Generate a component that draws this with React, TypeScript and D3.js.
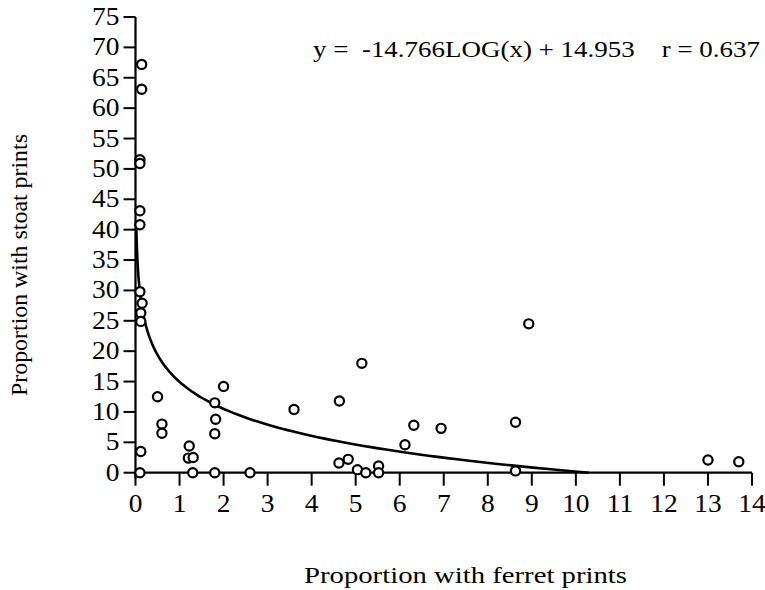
import React from "react";
import * as d3 from "d3";

const xValues = [0.14, 0.14, 0.1, 0.1, 0.1, 0.1, 0.1, 0.15, 0.12, 0.12, 0.12, 0.1,
  0.5, 0.6, 0.6, 1.22, 1.2, 1.31, 1.3, 1.8, 1.82, 1.8, 2.0, 1.8, 2.6, 3.6,
  4.63, 4.62, 4.83, 5.04, 5.23, 5.52, 5.52, 5.14, 6.12, 6.32, 6.94, 8.63, 8.63, 8.93, 13.0, 13.7];
const yValues = [67.2, 63.1, 51.5, 50.9, 43.1, 40.8, 29.8, 27.9, 26.3, 24.9, 3.5, 0,
  12.5, 8.0, 6.5, 4.4, 2.4, 2.5, 0, 11.5, 8.8, 6.4, 14.2, 0, 0, 10.4,
  11.8, 1.6, 2.2, 0.5, 0, 1.1, 0, 18.0, 4.6, 7.8, 7.3, 8.3, 0.3, 24.5, 2.1, 1.8];
const xTicks = d3.range(0, 15, 1);
const yTicks = d3.range(0, 80, 5);
const slope = -14.766;
const intercept = 14.953;
const equationLabel = "y =  -14.766LOG(x) + 14.953    r = 0.637";
const xTitle = "Proportion with ferret prints";
const yTitle = "Proportion with stoat prints";

export default function App() {
  const W = 765, H = 590;
  const x = d3.scaleLinear().domain([0, 14]).range([135.5, 752]);
  const y = d3.scaleLinear().domain([0, 75]).range([472.7, 17]);
  const root = Math.pow(10, intercept / -slope);
  const curveXs = d3.range(0, 201).map((i) => 0.02 * Math.pow(root / 0.02, i / 200));
  const line = d3.line<number>()
    .x((d) => x(d))
    .y((d) => y(slope * Math.log10(d) + intercept));
  const font = "'Liberation Serif', 'Times New Roman', serif";
  return (
    <svg width={W} height={H} style={{ position: "absolute", left: 0, top: 0, background: "#fff" }}
      fontFamily={font}>
      <rect width={W} height={H} fill="#fff" />
      <line x1={x(0)} x2={x(0)} y1={y(75)} y2={y(0) + 6} stroke="#000" strokeWidth={2.2} />
      <line x1={x(0)} x2={x(14)} y1={y(0)} y2={y(0)} stroke="#000" strokeWidth={2.2} />
      {yTicks.map((t) => (
        <g key={"y" + t}>
          <line x1={x(0) - 12} x2={x(0)} y1={y(t)} y2={y(t)} stroke="#000" strokeWidth={2} />
          <text transform={`translate(${x(0) - 16},${y(t) + 8}) scale(1.12,1)`} textAnchor="end" fontSize={24.5}>{t}</text>
        </g>
      ))}
      {xTicks.map((t) => (
        <g key={"x" + t}>
          <line x1={x(t)} x2={x(t)} y1={y(0)} y2={y(0) + 13} stroke="#000" strokeWidth={2} />
          <text transform={`translate(${x(t)},${y(0) + 39}) scale(1.12,1)`} textAnchor="middle" fontSize={24.5}>{t}</text>
        </g>
      ))}
      <path d={line(curveXs) || ""} fill="none" stroke="#000" strokeWidth={2.6} />
      {xValues.map((xv, i) => (
        <circle key={i} cx={x(xv)} cy={y(yValues[i])} r={4.6} fill="#fff" stroke="#000" strokeWidth={2.2} />
      ))}
      <text x={313} y={57} fontSize={23} textLength={447} lengthAdjust="spacingAndGlyphs" xmlSpace="preserve">{equationLabel}</text>
      <text x={304} y={583} fontSize={24} textLength={323} lengthAdjust="spacingAndGlyphs">{xTitle}</text>
      <text transform="translate(27,396) rotate(-90)" fontSize={24} textLength={262} lengthAdjust="spacingAndGlyphs">{yTitle}</text>
    </svg>
  );
}
